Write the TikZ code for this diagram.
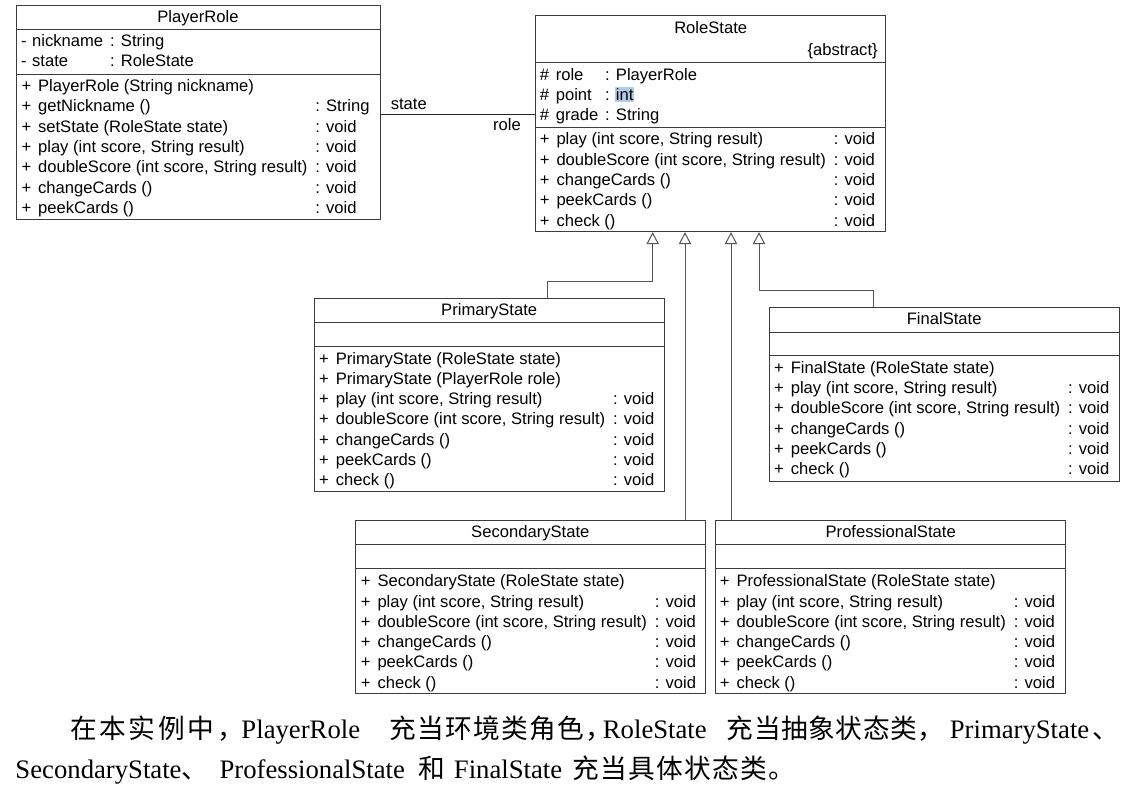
\documentclass[tikz,border=0pt]{standalone}
\usepackage{fontspec}
\usepackage{array}
\setmainfont{Liberation Serif}
\newfontfamily\uml{Liberation Sans}
\newfontfamily\cjk{Noto Sans CJK SC}
\usetikzlibrary{arrows.meta,fit}
\definecolor{hlblue}{RGB}{178,204,230}
\definecolor{linegray}{RGB}{60,60,60}
\definecolor{conngray}{RGB}{85,85,85}
\newlength\zhw
\setlength\zhw{28pt}
\newcommand\zh[1]{{\cjk\zhloop#1\relax}}
\def\zhloop#1{\ifx\relax#1\else\makebox[\zhw][l]{#1}\expandafter\zhloop\fi}
\newcommand\umlfont{\uml\fontsize{16.6}{20.3}\selectfont}
\newcommand\ops[1]{\begin{tabular}[t]{@{}p{16.6pt}@{}p{277.3pt}@{}l@{}}#1\end{tabular}}
\tikzset{
  classbox/.style={draw=linegray, line width=1pt, inner sep=0pt},
  sepline/.style={draw=linegray, line width=1pt},
  txt/.style={inner sep=0pt, outer sep=0pt, font=\umlfont, anchor=base west},
  ttl/.style={inner sep=0pt, outer sep=0pt, font=\umlfont, anchor=base},
  assoc/.style={draw=black!85, line width=1pt},
  gen/.style={draw=conngray, line width=1pt, -{Triangle[open, width=12.5pt, length=12pt]}},
  para/.style={inner sep=0pt, outer sep=0pt, anchor=base west, font=\fontsize{26.7}{30}\selectfont}
}
\begin{document}
\begin{tikzpicture}[x=1pt, y=-1pt]
\fill[white] (0,0) rectangle (1146,794);
\useasboundingbox (0,0) rectangle (1146,794);

% ---------- PlayerRole ----------
\node[classbox, fit={(16,6) (380,220)}] (pr) {};
\draw[sepline] (pr.west |- 0,30) -- (pr.east |- 0,30);
\draw[sepline] (pr.west |- 0,74.3) -- (pr.east |- 0,74.3);
\node[ttl] (prt) at (198,22.7) {PlayerRole};
\node[txt] (pra) at (21,46.7) {\begin{tabular}[t]{@{}p{11.2pt}@{}p{78pt}@{}l@{}}
- & nickname & : String\\
- & state & : RoleState
\end{tabular}};
\node[txt] (prm) at (21.5,91.7) {\ops{
+ & PlayerRole (String nickname) & \\
+ & getNickname () & : String\\
+ & setState (RoleState state) & : void\\
+ & play (int score, String result) & : void\\
+ & doubleScore (int score, String result) & : void\\
+ & changeCards () & : void\\
+ & peekCards () & : void}};

% ---------- RoleState ----------
\node[classbox, fit={(535.7,16) (885.7,231.7)}] (rs) {};
\draw[sepline] (rs.west |- 0,62.3) -- (rs.east |- 0,62.3);
\draw[sepline] (rs.west |- 0,127.3) -- (rs.east |- 0,127.3);
\node[ttl] (rst) at (710.7,33.3) {RoleState};
\node[inner sep=0pt, outer sep=0pt, font=\umlfont, anchor=base east] (rsab) at (877.7,55.7) {\{abstract\}};
\node[fill=hlblue, inner sep=0pt, minimum width=18.3pt, minimum height=14.4pt, anchor=north west] (hl) at (615,87.3) {};
\node[txt] (rsa) at (539.8,80.3) {\begin{tabular}[t]{@{}p{16pt}@{}p{49.4pt}@{}l@{}}
\# & role & : PlayerRole\\
\# & point & : int\\
\# & grade & : String
\end{tabular}};
\node[txt] (rsm) at (539.9,145) {\ops{
+ & play (int score, String result) & : void\\
+ & doubleScore (int score, String result) & : void\\
+ & changeCards () & : void\\
+ & peekCards () & : void\\
+ & check () & : void}};

% ---------- PrimaryState ----------
\node[classbox, fit={(314,299) (664.3,491.7)}] (ps) {};
\draw[sepline] (ps.west |- 0,322.7) -- (ps.east |- 0,322.7);
\draw[sepline] (ps.west |- 0,346.7) -- (ps.east |- 0,346.7);
\node[ttl] (pst) at (489.2,316) {PrimaryState};
\node[txt] (psm) at (319.2,364) {\ops{
+ & PrimaryState (RoleState state) & \\
+ & PrimaryState (PlayerRole role) & \\
+ & play (int score, String result) & : void\\
+ & doubleScore (int score, String result) & : void\\
+ & changeCards () & : void\\
+ & peekCards () & : void\\
+ & check () & : void}};

% ---------- FinalState ----------
\node[classbox, fit={(769,307.3) (1119.3,481.7)}] (fs) {};
\draw[sepline] (fs.west |- 0,332.3) -- (fs.east |- 0,332.3);
\draw[sepline] (fs.west |- 0,355.7) -- (fs.east |- 0,355.7);
\node[ttl] (fst) at (944.2,325) {FinalState};
\node[txt] (fsm) at (774.2,373.3) {\ops{
+ & FinalState (RoleState state) & \\
+ & play (int score, String result) & : void\\
+ & doubleScore (int score, String result) & : void\\
+ & changeCards () & : void\\
+ & peekCards () & : void\\
+ & check () & : void}};

% ---------- SecondaryState ----------
\node[classbox, fit={(355.7,520.7) (705,693.3)}] (ss) {};
\draw[sepline] (ss.west |- 0,544) -- (ss.east |- 0,544);
\draw[sepline] (ss.west |- 0,568.3) -- (ss.east |- 0,568.3);
\node[ttl] (sst) at (530.3,537.3) {SecondaryState};
\node[txt] (ssm) at (360.9,586.7) {\ops{
+ & SecondaryState (RoleState state) & \\
+ & play (int score, String result) & : void\\
+ & doubleScore (int score, String result) & : void\\
+ & changeCards () & : void\\
+ & peekCards () & : void\\
+ & check () & : void}};

% ---------- ProfessionalState ----------
\node[classbox, fit={(715.7,520.7) (1065.7,693.3)}] (pfs) {};
\draw[sepline] (pfs.west |- 0,544) -- (pfs.east |- 0,544);
\draw[sepline] (pfs.west |- 0,568.3) -- (pfs.east |- 0,568.3);
\node[ttl] (pfst) at (890.7,537) {ProfessionalState};
\node[txt] (pfsm) at (719.9,586.7) {\ops{
+ & ProfessionalState (RoleState state) & \\
+ & play (int score, String result) & : void\\
+ & doubleScore (int score, String result) & : void\\
+ & changeCards () & : void\\
+ & peekCards () & : void\\
+ & check () & : void}};

% ---------- association ----------
\draw[assoc] (pr.east |- 0,114.3) -- (rs.west |- 0,114.3);
\node[txt] (lstate) at (390.8,109.3) {state};
\node[txt] (lrole) at (493.2,130.7) {role};

% ---------- generalizations ----------
\draw[gen] (ps.north -| 547,0) |- (652.7,281.7) -- (rs.south -| 652.7,0);
\draw[gen] (ss.north -| 685,0) -- (rs.south -| 685,0);
\draw[gen] (pfs.north -| 731,0) -- (rs.south -| 731,0);
\draw[gen] (fs.north -| 873,0) |- (759,290.7) -- (rs.south -| 759,0);

% ---------- paragraph ----------
\node[para] (line1) at (70,738.5) {\setlength\zhw{29.5pt}\zh{在本实例中}\makebox[24pt][l]{\cjk ，}PlayerRole\hspace{29.8pt}\setlength\zhw{28pt}\zh{充当环境类角色}\makebox[17pt][l]{\cjk ，}RoleState\hspace{20pt}\setlength\zhw{27.3pt}\zh{充当抽象状态类}\makebox[32pt][l]{\cjk ，}PrimaryState\hspace{3pt}\zh{、}};
\node[para] (line2) at (15.5,778) {\setlength\zhw{28pt}SecondaryState\zh{、}\hspace{10pt}ProfessionalState\hspace{14pt}\zh{和}\hspace{7pt}FinalState\hspace{10pt}\zh{充当具体状态类。}};
\end{tikzpicture}
\end{document}
